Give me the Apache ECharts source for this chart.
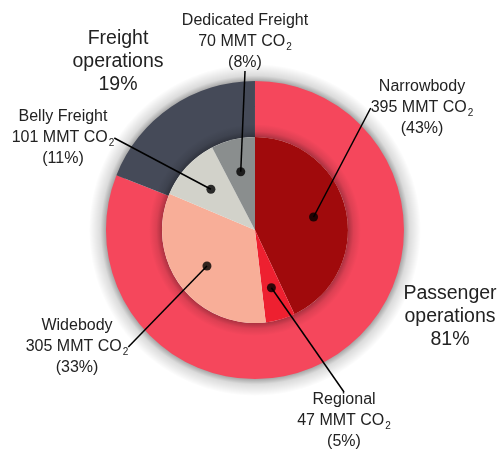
<!DOCTYPE html>
<html>
<head>
<meta charset="utf-8">
<script src="https://cdn.jsdelivr.net/npm/echarts@6/dist/echarts.min.js"></script>
<style>
  html, body { margin: 0; padding: 0; background: #fff; }
  #chartDiv { width: 498px; height: 451px; }
</style>
</head>
<body>
<div id="chartDiv"></div>
<script>
// outer ring: operations share
var outerNames = ['Passenger operations', 'Freight operations'];
var outerPct = [81, 19];
var outerColors = ['#f5475c', '#454a58'];

// inner pie: aircraft type, MMT CO2
var innerNames = ['Narrowbody', 'Regional', 'Widebody', 'Belly Freight', 'Dedicated Freight'];
var innerValues = [395, 47, 305, 101, 70];
var innerPct = [43, 5, 33, 11, 8];
var innerColors = ['#a00a0c', '#ee2030', '#f8ae98', '#d2d2ca', '#8a8e8e'];

// where the labels sit (layout only)
var outerLabelPos = [[450, 317], [118, 62]];
var innerLabelPos = [[422, 108], [344, 421], [77, 347], [63, 138], [245, 42]];

var center = ['51.2%', '51%'];
var font = '"Liberation Sans", Arial, sans-serif';

var chart;

// soft shadow ring, drawn as a radial gradient
function glowRing(name, r0, r1, stops, z) {
    return {
        type: 'pie',
        name: name,
        center: center,
        radius: [r0, r1],
        silent: true,
        z: z,
        label: { show: false },
        labelLine: { show: false },
        data: [{
            value: 1,
            itemStyle: {
                color: { type: 'radial', x: 0.5, y: 0.5, r: 0.5, colorStops: stops }
            }
        }]
    };
}

window.onload = function () {
    chart = echarts.init(document.getElementById('chartDiv'));

    var total = 0;
    innerValues.forEach(function (v) { total += v; });

    // dot positions: middle of every slice
    var dots = [];
    var acc = 0;
    innerValues.forEach(function (v) {
        dots.push([60, acc + v / 2]);
        acc += v;
    });

    var option = {
        animation: false,
        polar: { center: center, radius: 93 },
        angleAxis: { type: 'value', min: 0, max: total, startAngle: 90, show: false },
        radiusAxis: { type: 'value', min: 0, max: 93, show: false },
        series: [
            glowRing('outerGlow', 140, 166, [
                { offset: 0, color: 'rgba(0,0,0,0.5)' },
                { offset: 0.88, color: 'rgba(0,0,0,0.45)' },
                { offset: 0.93, color: 'rgba(0,0,0,0.14)' },
                { offset: 1, color: 'rgba(0,0,0,0)' }
            ], 1),
            {
                type: 'pie',
                name: 'operations',
                center: center,
                radius: [93, 149],
                silent: true,
                z: 1,
                data: outerNames.map(function (n, i) {
                    return { name: n, value: outerPct[i], itemStyle: { color: outerColors[i] } };
                }),
                label: {
                    show: true,
                    position: 'outside',
                    fontFamily: font,
                    fontSize: 19.5,
                    lineHeight: 23,
                    color: '#222',
                    align: 'center',
                    formatter: function (p) {
                        return p.name.replace(' ', '\n') + '\n' + p.value + '%';
                    }
                },
                labelLine: { show: false },
                labelLayout: function (p) {
                    var pos = outerLabelPos[p.dataIndex];
                    return { x: pos[0], y: pos[1], align: 'center', verticalAlign: 'middle' };
                }
            },
            glowRing('innerGlow', 93, 106, [
                { offset: 0, color: 'rgba(0,0,0,0.3)' },
                { offset: 0.877, color: 'rgba(0,0,0,0.3)' },
                { offset: 0.93, color: 'rgba(0,0,0,0.1)' },
                { offset: 1, color: 'rgba(0,0,0,0)' }
            ], 1),
            {
                type: 'pie',
                name: 'aircraft',
                center: center,
                radius: [0, 93],
                silent: true,
                z: 2,
                data: innerNames.map(function (n, i) {
                    return { name: n, value: innerValues[i], itemStyle: { color: innerColors[i] } };
                }),
                label: { show: false },
                labelLine: { show: false }
            },
            {
                // transparent copy to carry the leader lines and labels
                type: 'pie',
                name: 'labels',
                center: center,
                radius: [0, 60],
                silent: true,
                z: 5,
                avoidLabelOverlap: false,
                data: innerNames.map(function (n, i) {
                    return { name: n, value: innerValues[i] };
                }),
                itemStyle: { color: 'rgba(0,0,0,0)' },
                label: {
                    show: true,
                    position: 'outside',
                    fontFamily: font,
                    color: '#222',
                    align: 'center',
                    formatter: function (p) {
                        return '{t|' + p.name + '}\n{t|' + p.value + ' MMT CO}{s|2}\n{t|(' + innerPct[p.dataIndex] + '%)}';
                    },
                    rich: {
                        t: { fontFamily: font, fontSize: 16, lineHeight: 21, color: '#222' },
                        s: { fontFamily: font, fontSize: 10, lineHeight: 21, color: '#222', verticalAlign: 'bottom', padding: [0, 0, 0, 1] }
                    }
                },
                labelLine: { show: true, length: 0, length2: 0, lineStyle: { color: '#000', width: 1.5 } },
                labelLayout: function (p) {
                    var pos = innerLabelPos[p.dataIndex];
                    return { x: pos[0], y: pos[1], align: 'center', verticalAlign: 'middle' };
                }
            },
            {
                type: 'scatter',
                coordinateSystem: 'polar',
                symbolSize: 9,
                silent: true,
                z: 6,
                itemStyle: { color: '#000' },
                data: dots
            }
        ]
    };
    chart.setOption(option);
};
</script>
</body>
</html>
